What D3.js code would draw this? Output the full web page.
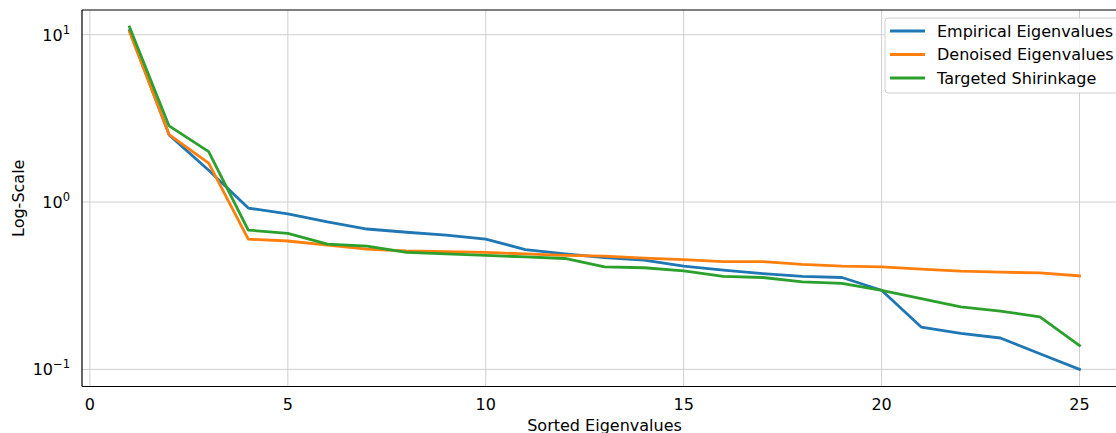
<!DOCTYPE html>
<html>
<head>
<meta charset="utf-8">
<script src="https://cdn.jsdelivr.net/npm/d3@7"></script>
<style>
  body { margin: 0; background: #fff; }
  svg { display: block; font-family: "DejaVu Sans", sans-serif; }
</style>
</head>
<body>
<div id="chart"></div>
<script>
// eigenvalue index 1..25
const RANK = d3.range(1, 26);

const EMPIRICAL = [10.6, 2.52, 1.55, 0.92, 0.85, 0.76, 0.69, 0.66, 0.635, 0.60,
                   0.52, 0.49, 0.466, 0.45, 0.414, 0.392, 0.374, 0.36, 0.354, 0.297,
                   0.179, 0.164, 0.154, 0.124, 0.100];
const DENOISED  = [10.4, 2.53, 1.71, 0.60, 0.585, 0.553, 0.523, 0.51, 0.505, 0.50,
                   0.49, 0.48, 0.475, 0.462, 0.453, 0.44, 0.44, 0.424, 0.414, 0.41,
                   0.397, 0.386, 0.381, 0.377, 0.362];
const SHRINKAGE = [11.1, 2.85, 2.00, 0.68, 0.65, 0.56, 0.545, 0.50, 0.49, 0.48,
                   0.47, 0.46, 0.41, 0.405, 0.388, 0.36, 0.354, 0.333, 0.327, 0.297,
                   0.265, 0.236, 0.223, 0.206, 0.139];

const SERIES = [
    { name: "Empirical Eigenvalues", values: EMPIRICAL, color: "#1f77b4" },
    { name: "Denoised Eigenvalues",  values: DENOISED,  color: "#ff7f0e" },
    { name: "Targeted Shirinkage",   values: SHRINKAGE, color: "#2ca02c" }
];

const X_TICKS = [0, 5, 10, 15, 20, 25];
const Y_TICKS = [0.1, 1, 10];
const Y_EXP   = ["\u22121", "0", "1"];

const W = 1116, H = 433;
const pLeft = 82, pRight = 1127, pTop = 10, pBottom = 386.5;
const FS = "16px";

const svg = d3.select("#chart").append("svg")
    .attr("width", W).attr("height", H);

// matplotlib-like 5% margins
const xMin = d3.min(RANK), xMax = d3.max(RANK), xPad = (xMax - xMin) * 0.05;
const x = d3.scaleLinear().domain([xMin - xPad, xMax + xPad]).range([pLeft, pRight]);

const all = SERIES.flatMap(s => s.values);
const lMin = Math.log10(d3.min(all)), lMax = Math.log10(d3.max(all));
const lPad = (lMax - lMin) * 0.05;
const y = d3.scaleLog()
    .domain([Math.pow(10, lMin - lPad), Math.pow(10, lMax + lPad)])
    .range([pBottom, pTop]);

// grid
const grid = svg.append("g").attr("stroke", "#cfcfcf").attr("stroke-width", 1);
X_TICKS.forEach(t => {
    grid.append("line")
        .attr("x1", x(t)).attr("x2", x(t))
        .attr("y1", pTop).attr("y2", pBottom);
});
Y_TICKS.forEach(t => {
    grid.append("line")
        .attr("x1", pLeft).attr("x2", pRight)
        .attr("y1", y(t)).attr("y2", y(t));
});

// lines
const line = d3.line()
    .x((d, i) => x(RANK[i]))
    .y(d => y(d));

SERIES.forEach(s => {
    svg.append("path")
        .datum(s.values)
        .attr("d", line)
        .attr("fill", "none")
        .attr("stroke", s.color)
        .attr("stroke-width", 2.8)
        .attr("stroke-linejoin", "round")
        .attr("stroke-linecap", "square");
});

// spines
const spine = svg.append("g").attr("stroke", "#000").attr("stroke-width", 1.2);
spine.append("line").attr("x1", pLeft).attr("x2", pLeft).attr("y1", pTop).attr("y2", pBottom);
spine.append("line").attr("x1", pLeft).attr("x2", pRight).attr("y1", pBottom).attr("y2", pBottom);
spine.append("line").attr("x1", pLeft).attr("x2", pRight).attr("y1", pTop).attr("y2", pTop);
spine.append("line").attr("x1", pRight).attr("x2", pRight).attr("y1", pTop).attr("y2", pBottom);

// x tick labels
X_TICKS.forEach(t => {
    svg.append("text")
        .attr("x", x(t)).attr("y", 410)
        .attr("text-anchor", "middle")
        .attr("font-size", FS)
        .attr("fill", "#000")
        .text(t);
});

// y tick labels
Y_TICKS.forEach((t, i) => {
    const txt = svg.append("text")
        .attr("x", 70).attr("y", y(t) + 6)
        .attr("text-anchor", "end")
        .attr("font-size", FS)
        .attr("fill", "#000");
    txt.append("tspan").text("10");
    txt.append("tspan")
        .attr("dy", -7)
        .attr("font-size", "11.5px")
        .text(Y_EXP[i]);
});

// axis labels
svg.append("text")
    .attr("x", (pLeft + pRight) / 2).attr("y", 431)
    .attr("text-anchor", "middle")
    .attr("font-size", FS)
    .text("Sorted Eigenvalues");

svg.append("text")
    .attr("transform", `translate(24,${(pTop + pBottom) / 2}) rotate(-90)`)
    .attr("text-anchor", "middle")
    .attr("font-size", FS)
    .text("Log-Scale");

// legend
const lg = svg.append("g").attr("transform", "translate(885,18)");
lg.append("rect")
    .attr("width", 250).attr("height", 75)
    .attr("rx", 3)
    .attr("fill", "#fff").attr("fill-opacity", 0.8)
    .attr("stroke", "#d0d0d0");
SERIES.forEach((s, i) => {
    const ly = 13 + i * 23.5;
    lg.append("line")
        .attr("x1", 5).attr("x2", 40)
        .attr("y1", ly).attr("y2", ly)
        .attr("stroke", s.color).attr("stroke-width", 2.8);
    lg.append("text")
        .attr("x", 52).attr("y", ly + 5.5)
        .attr("font-size", FS)
        .text(s.name);
});
</script>
</body>
</html>
